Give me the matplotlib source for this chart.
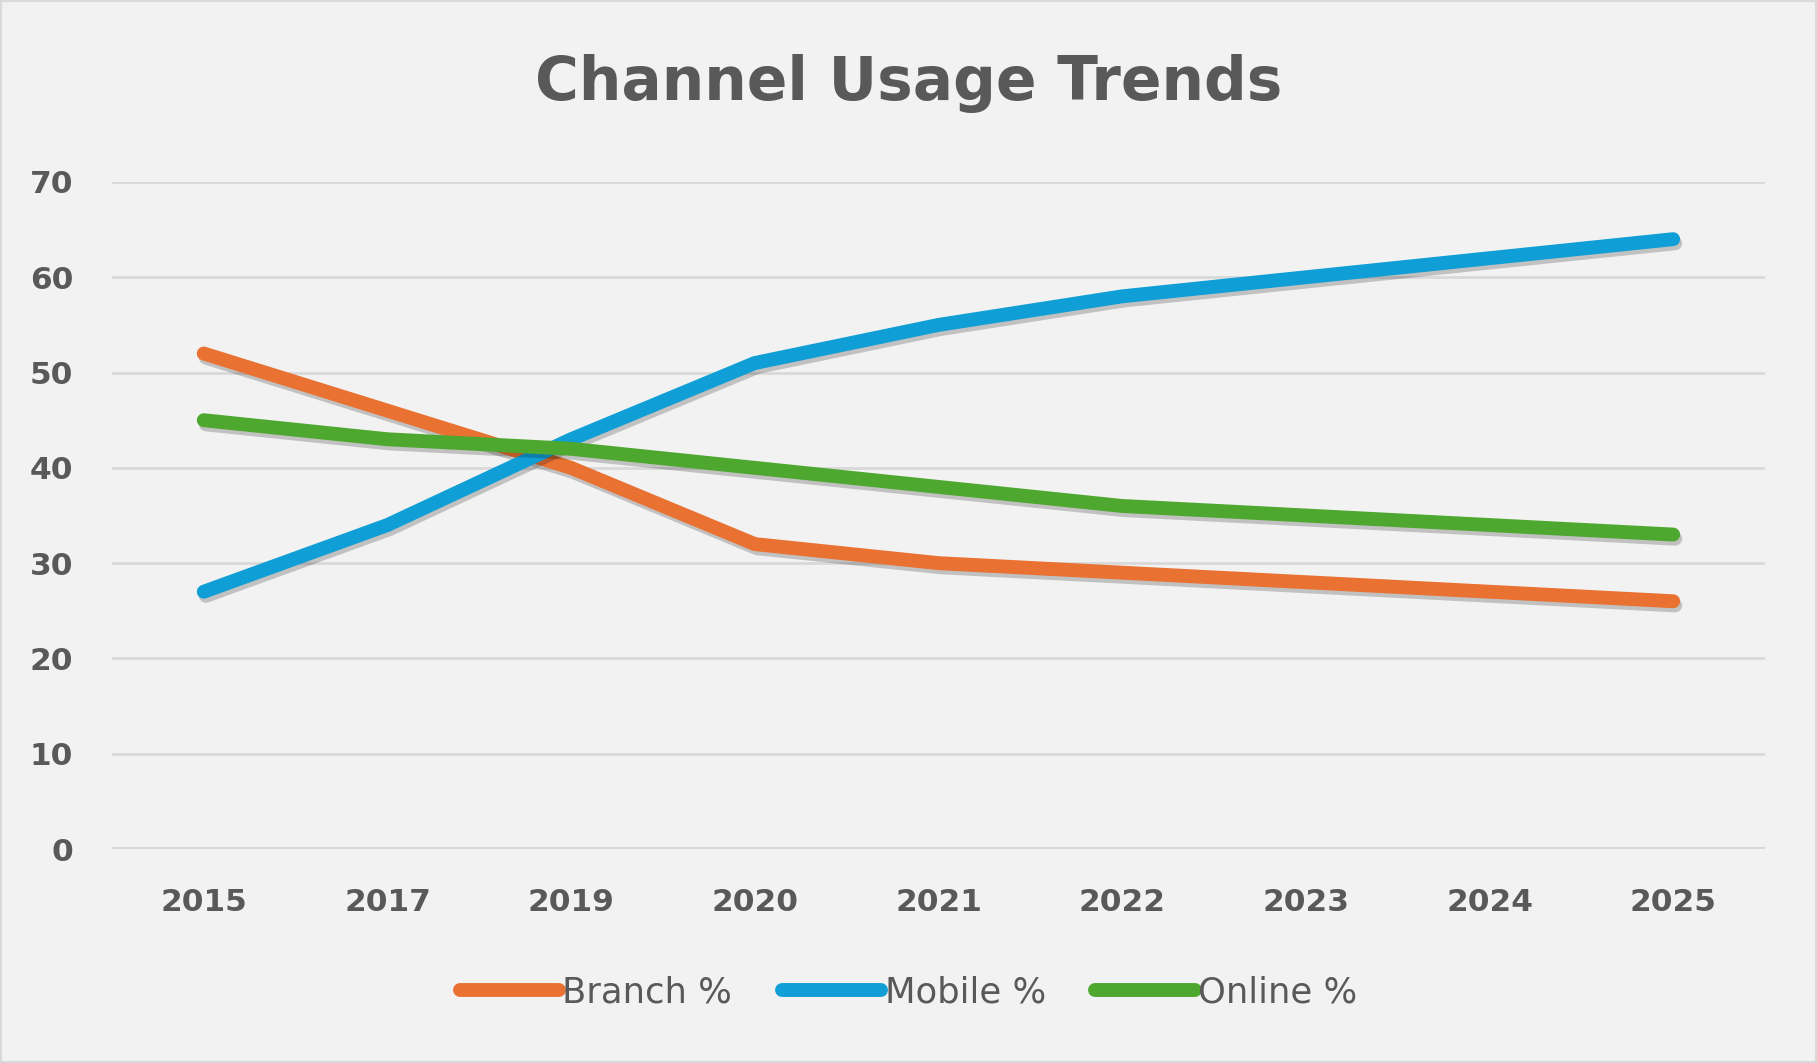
import matplotlib.pyplot as plt
import matplotlib.patheffects as pe
import numpy as np

years = ["2015", "2017", "2019", "2020", "2021", "2022", "2023", "2024", "2025"]
branch = [52, 46, 40, 32, 30, 29, 28, 27, 26]
mobile = [27, 34, 43, 51, 55, 58, 60, 62, 64]
online = [45, 43, 42, 40, 38, 36, 35, 34, 33]

series = [("Branch %", branch, "#E97132"),
          ("Mobile %", mobile, "#0F9ED5"),
          ("Online %", online, "#4EA72E")]

BG = "#F2F2F2"
TXT = "#595959"

fig = plt.figure(figsize=(18.17, 10.63), dpi=100, facecolor=BG)
ax = fig.add_axes([0.0616, 0.2013, 0.9098, 0.6275], facecolor=BG)

x = np.arange(len(years))
shadow = [pe.SimpleLineShadow(offset=(1.5, -3), shadow_color="black", alpha=0.2), pe.Normal()]
for name, vals, col in series:
    ax.plot(x, vals, color=col, lw=10, solid_capstyle="round", solid_joinstyle="round",
            label=name, path_effects=shadow, zorder=3)

ax.set_xlim(-0.5, len(years) - 0.5)
ax.set_ylim(0, 70)
ax.set_yticks(range(0, 71, 10))
ax.set_xticks(x)
ax.set_xticklabels(years)
ax.grid(axis="y", color="#D9D9D9", lw=2)
ax.axhline(0, color="#D9D9D9", lw=3, zorder=2)
ax.set_axisbelow(True)
for s in ax.spines.values():
    s.set_visible(False)
ax.tick_params(length=0, labelsize=22.5, labelcolor=TXT)
ax.tick_params(axis="x", pad=28)
ax.tick_params(axis="y", pad=28)
for lab in ax.get_xticklabels() + ax.get_yticklabels():
    lab.set_fontweight("bold")

fig.text(0.5, 0.921, "Channel Usage Trends", ha="center", va="center",
         fontsize=43, fontweight="bold", color=TXT)

leg = fig.legend(loc="center", bbox_to_anchor=(0.5, 0.066), ncol=3, frameon=False,
                 fontsize=25.5, handlelength=2.8, handletextpad=0.1, columnspacing=1.4,
                 labelcolor=TXT)
for h in leg.get_lines():
    h.set_path_effects([])
    h.set_linewidth(10)

border = plt.Rectangle((0, 0), 1, 1, transform=fig.transFigure, fill=False,
                       edgecolor="#D9D9D9", lw=3)
fig.patches.append(border)

fig.savefig("out.png", dpi=100, facecolor=BG)
